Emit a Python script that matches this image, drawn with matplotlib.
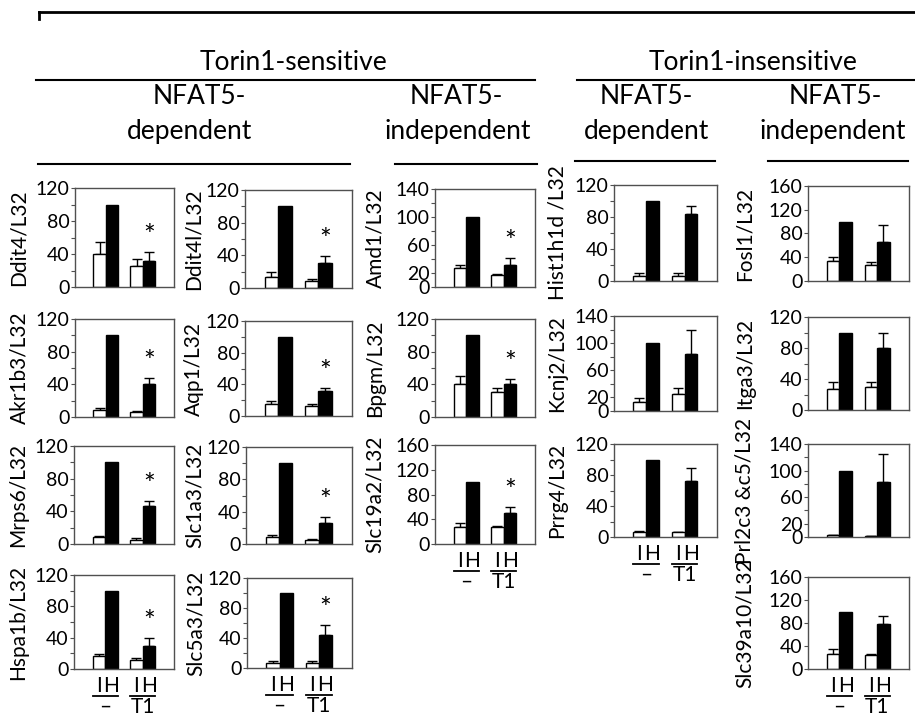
import matplotlib
matplotlib.use("Agg")
import matplotlib.pyplot as plt
import matplotlib.transforms as mtransforms
from matplotlib.lines import Line2D
from matplotlib.ticker import FixedLocator

plt.rcParams['font.family'] = ['Lato', 'DejaVu Sans']

# ---------------- data ----------------
genes = ["Ddit4/L32", "Akr1b3/L32", "Mrps6/L32", "Hspa1b/L32",
         "Ddit4l/L32", "Aqp1/L32", "Slc1a3/L32", "Slc5a3/L32",
         "Amd1/L32", "Bpgm/L32", "Slc19a2/L32",
         "Hist1h1d /L32", "Kcnj2/L32", "Prrg4/L32",
         "Fosl1/L32", "Itga3/L32", "Prl2c3 &c5/L32", "Slc39a10/L32"]
y_max = [120, 120, 120, 120,
         120, 120, 120, 120,
         140, 120, 160,
         120, 140, 120,
         160, 120, 140, 160]
# white bars = I (isotonic), groups: vehicle (–), Torin1 (T1)
iso_mean = [[40, 25], [8, 6], [8, 5.5], [16, 12],
            [13, 8], [15.5, 13], [8.5, 5], [6.5, 6.5],
            [26.5, 16.5], [40, 31], [28, 28],
            [6, 6.5], [13.5, 24.5], [6.5, 6],
            [34, 27], [27.5, 29.5], [2.5, 1.5], [26.5, 23.5]]
iso_err = [[14, 9], [2.5, 1], [2, 1.5], [3.5, 1.5],
           [7, 3], [4, 2.5], [2.5, 1], [2.5, 2.5],
           [5.5, 2], [10.5, 4], [6.5, 1.5],
           [3.5, 4], [5, 9], [1.7, 1],
           [7, 4.5], [8, 6], [1, 0.5], [8, 3]]
# black bars = H (hypertonic)
hyp_mean = [[100, 32], [100, 41], [100, 46], [100, 30],
            [100, 31], [100, 32], [100, 26], [100, 44],
            [100, 32], [100, 40.5], [100, 50],
            [100, 84], [100, 84.5], [100, 72],
            [100, 65.5], [100, 79.5], [100, 83.5], [100, 78.5]]
hyp_err = [[0, 10], [0, 7], [0, 7], [0, 10],
           [0, 8], [0, 3.5], [0, 7], [0, 13],
           [0, 9], [0, 6], [0, 9.5],
           [0, 10], [0, 34.5], [0, 17],
           [0, 28], [0, 20.5], [0, 41], [0, 14]]
signif = [True, True, True, True,
          True, True, True, True,
          True, True, True,
          False, False, False,
          False, False, False, False]
bar_letters = ["I", "H"]
group_labels = ["\u2013", "T1"]

# ---------------- layout (pixels) ----------------
W, H = 915, 719
fig = plt.figure(figsize=(W / 100, H / 100), dpi=100)

# (left, right, top, bottom, ylabel offset)
boxes = [(75, 174, 188, 287, 56), (75, 174, 319, 417, 56), (74, 174, 446, 544, 56), (74, 174, 575, 669, 56),
         (245, 352, 190, 288, 51), (245, 352, 321, 416, 51), (246, 352, 447, 544, 51), (247, 352, 578, 668, 51),
         (435, 535, 189, 287, 60), (435, 535, 319, 417, 60), (435, 535, 445, 544, 60),
         (614, 717, 185, 281, 57), (614, 717, 316, 411, 57), (614, 717, 444, 537, 57),
         (808, 909, 186, 281, 63), (808, 909, 317, 410, 63), (808, 909, 444, 537, 63), (808, 909, 577, 669, 63)]
bottom_panels = [3, 7, 10, 13, 17]

centers = [0.31, 0.685]
bw = 0.125
FS_TICK = 14
FS_LAB = 15
spine_col = "#505050"


def pt(pxv):
    return pxv * 0.72


for i, g in enumerate(genes):
    l, r, t, b, off = boxes[i]
    ax = fig.add_axes([l / W, 1 - b / H, (r - l) / W, (b - t) / H])
    xw = [c - bw / 2 for c in centers]
    xb = [c + bw / 2 for c in centers]
    ax.bar(xw, iso_mean[i], width=bw, color="white", edgecolor="black", linewidth=1, zorder=2)
    ax.bar(xb, hyp_mean[i], width=bw, color="black", edgecolor="black", linewidth=1, zorder=2)
    ax.errorbar(xw, iso_mean[i], yerr=[[0, 0], iso_err[i]], fmt="none", ecolor="black",
                elinewidth=1, capsize=3.5, capthick=1, zorder=1)
    ke = [k for k in range(2) if hyp_err[i][k] > 0]
    ax.errorbar([xb[k] for k in ke], [hyp_mean[i][k] for k in ke],
                yerr=[[0] * len(ke), [hyp_err[i][k] for k in ke]], fmt="none", ecolor="black",
                elinewidth=1, capsize=3.5, capthick=1, zorder=1)
    if signif[i]:
        ax.annotate("*", xy=(xb[1], hyp_mean[i][1] + hyp_err[i][1]), xytext=(0, pt(2)),
                    textcoords="offset points", ha="center", va="bottom", fontsize=20,
                    annotation_clip=False)
    ax.set_xlim(0, 1)
    ym = y_max[i]
    ax.set_ylim(0, ym)
    if ym == 120:
        major = [0, 40, 80, 120]
        minor = [20, 60, 100]
    elif ym == 140:
        major = [0, 20, 60, 100, 140]
        minor = [40, 80, 120]
    else:
        major = [0, 40, 80, 120, 160]
        minor = []
    ax.yaxis.set_major_locator(FixedLocator(major))
    ax.yaxis.set_minor_locator(FixedLocator(minor))
    ax.set_yticklabels([str(v) for v in major])
    ax.tick_params(axis="y", which="major", direction="out", length=3, width=0.8,
                   labelsize=FS_TICK, pad=1, color=spine_col)
    ax.tick_params(axis="y", which="minor", direction="out", length=3, width=0.8, color=spine_col)
    ax.set_xticks([])
    for s in ax.spines.values():
        s.set_color(spine_col)
        s.set_linewidth(1)
    ax.text(-off / (r - l), 0.5, g, transform=ax.transAxes, rotation=90,
            ha="center", va="center", fontsize=FS_LAB)

    if i in bottom_panels:
        xt = ax.get_xaxis_transform()
        for k in range(2):
            for xx, letter in zip([xw[k], xb[k]], bar_letters):
                ax.annotate(letter, xy=(xx, 0), xycoords=xt, xytext=(0, -pt(17)),
                            textcoords="offset points", ha="center", va="center",
                            fontsize=FS_LAB, annotation_clip=False)
            tr = mtransforms.offset_copy(xt, fig=fig, x=0, y=-pt(27), units="points")
            ax.plot([centers[k] - bw, centers[k] + bw], [0, 0], color="black", lw=1.3,
                    transform=tr, clip_on=False)
            ax.annotate(group_labels[k], xy=(centers[k], 0), xycoords=xt, xytext=(0, -pt(38)),
                        textcoords="offset points", ha="center", va="center",
                        fontsize=FS_LAB, annotation_clip=False)


# ---------------- headers ----------------
def hline(x0, x1, y, lw=1.5):
    fig.add_artist(Line2D([x0 / W, x1 / W], [1 - y / H, 1 - y / H], color="black",
                          lw=lw, transform=fig.transFigure))


def htext(x, y, s, fs=19):
    fig.text(x / W, 1 - y / H, s, ha="center", va="center", fontsize=fs)


# top bracket
hline(39, 915, 12, lw=2)
fig.add_artist(Line2D([39 / W, 39 / W], [1 - 12 / H, 1 - 19 / H], color="black", lw=2,
                      transform=fig.transFigure))

htext(293, 62, "Torin1-sensitive")
htext(753, 62, "Torin1-insensitive")
hline(36, 535, 80)
hline(577, 915, 80)

htext(199, 97, "NFAT5-")
htext(190, 131, "dependent")
htext(456, 97, "NFAT5-")
htext(458, 131, "independent")
htext(646, 97, "NFAT5-")
htext(647, 131, "dependent")
htext(835, 97, "NFAT5-")
htext(833, 131, "independent")
hline(38, 350, 164)
hline(395, 537, 164)
hline(575, 715, 161)
hline(768, 908, 161)

fig.savefig("out.png", dpi=100)
